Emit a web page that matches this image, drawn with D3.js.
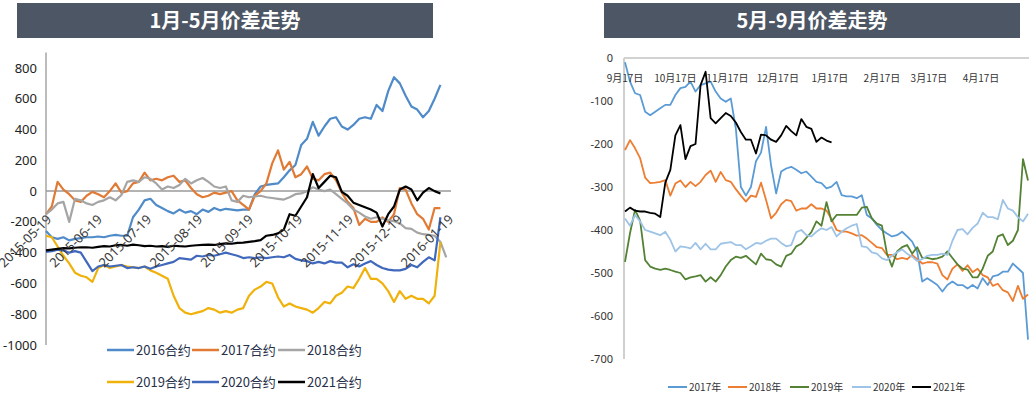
<!DOCTYPE html>
<html>
<head>
<meta charset="utf-8">
<script src="https://cdn.jsdelivr.net/npm/d3@7"></script>
<style>
  body { margin: 0; background: #fff; }
  svg { display: block; font-family: 'Noto Sans', 'Noto Sans CJK SC', sans-serif; }
</style>
</head>
<body>
<div id="result"></div>
<script>
// ---------- left chart data (1-5 spread, sampled every ~3.5 days from 2015-05-19) ----------
const leftNames = ['2016合约', '2017合约', '2018合约', '2019合约', '2020合约', '2021合约'];
const leftColors = ['#4f8bc9', '#e07a35', '#a5a5a5', '#f0b10a', '#4068bc', '#000000'];

const left2016 = [-260,-300,-310,-300,-320,-310,-305,-300,-300,-295,-300,-290,-285,-290,-290,-170,-120,-60,-50,-90,
  -110,-130,-145,-120,-140,-130,-150,-120,-135,-110,-125,-115,-120,-125,-120,-120,-20,30,40,45,
  50,90,135,170,300,340,450,360,420,470,480,420,400,430,470,480,470,560,520,650,
  740,700,620,550,530,480,520,600,690];
const left2017 = [-150,-100,60,10,-20,-60,-70,-30,-5,-20,-40,0,50,-10,0,50,60,120,70,80,
  70,90,100,60,70,20,-20,-40,-30,-10,-20,-10,0,-60,-90,-120,-30,0,50,180,
  265,140,190,90,110,160,80,70,110,120,70,-10,-70,-110,-220,-180,-200,-200,-170,-200,
  -150,20,10,-80,-150,-180,-250,-110,-110];
const left2018 = [-150,-120,-80,-70,-200,-50,-60,-80,-90,-70,-60,-40,-60,-25,60,70,60,90,80,50,
  10,30,20,40,80,50,70,85,60,30,20,30,-60,-70,-30,-40,-35,-30,-40,-45,
  -50,-55,-40,-20,-15,0,25,10,0,10,-20,-50,-80,-120,-140,-165,-180,-170,-180,-190,
  -195,-210,-240,-245,-270,-280,-285,-290,-330,-430];
const left2019 = [-290,-300,-360,-420,-470,-530,-550,-560,-590,-500,-480,-500,-490,-480,-490,-495,-500,-490,-515,-530,
  -550,-570,-680,-760,-790,-800,-790,-780,-760,-770,-790,-780,-790,-770,-760,-680,-640,-620,-590,-600,
  -690,-750,-730,-750,-760,-770,-790,-760,-720,-730,-680,-660,-620,-630,-570,-500,-570,-570,-600,-650,
  -720,-650,-700,-680,-700,-700,-730,-680,-330];
const left2020 = [-395,-390,-380,-385,-400,-390,-400,-460,-520,-490,-480,-490,-485,-480,-500,-495,-500,-490,-505,-490,
  -480,-470,-460,-435,-440,-445,-420,-425,-415,-420,-410,-400,-410,-420,-435,-430,-435,-430,-435,-430,
  -425,-430,-415,-440,-450,-455,-470,-460,-470,-455,-465,-465,-495,-475,-490,-470,-455,-480,-500,-510,
  -515,-515,-505,-480,-495,-460,-430,-450,-170];
const left2021 = [-385,-380,-375,-370,-372,-368,-365,-365,-368,-362,-358,-360,-352,-350,-355,-348,-352,-358,-355,-360,
  -358,-362,-355,-358,-360,-355,-352,-350,-348,-350,-345,-340,-342,-336,-335,-330,-325,-318,-290,-285,
  -275,-250,-150,-160,-100,-40,110,20,60,100,90,-5,-30,-75,-90,-105,-120,-140,-230,-150,
  -100,10,30,10,-60,-10,20,0,-15];

const leftTicks = ['2015-05-19', '2015-06-19', '2015-07-19', '2015-08-19', '2015-09-19',
  '2015-10-19', '2015-11-19', '2015-12-19', '2016-01-19'];
const leftYTicks = [-1000, -800, -600, -400, -200, 0, 200, 400, 600, 800];

// ---------- right chart data (5-9 spread, sampled every 3 days from 9月17日) ----------
const rightNames = ['2017年', '2018年', '2019年', '2020年', '2021年'];
const rightColors = ['#5b9bd5', '#ed7d31', '#548235', '#9dc3e6', '#000000'];

const r2017 = [-10,-55,-82,-86,-125,-133,-125,-117,-109,-109,-86,-70,-67,-55,-78,-63,-59,-55,-78,-94,
  -102,-94,-164,-300,-320,-300,-240,-220,-160,-250,-315,-264,-257,-253,-260,-268,-264,-276,-288,-291,
  -303,-299,-288,-319,-322,-322,-326,-319,-365,-373,-388,-400,-408,-415,-412,-404,-415,-427,-450,-520,
  -512,-520,-528,-543,-528,-520,-528,-528,-536,-528,-536,-512,-528,-508,-505,-497,-497,-478,-489,-500,-655];
const r2018 = [-214,-191,-210,-233,-278,-291,-290,-288,-284,-320,-292,-285,-300,-288,-298,-288,-272,-262,-288,-265,
  -284,-288,-305,-320,-334,-320,-323,-290,-330,-373,-360,-340,-330,-333,-355,-350,-350,-340,-350,-350,
  -355,-375,-400,-404,-404,-408,-413,-412,-420,-430,-440,-442,-458,-458,-468,-465,-468,-458,-468,-478,
  -475,-475,-478,-505,-515,-490,-480,-495,-482,-498,-490,-505,-510,-530,-525,-540,-545,-565,-530,-560,-550];
const r2019 = [-474,-407,-353,-378,-470,-485,-490,-493,-490,-493,-497,-500,-515,-510,-508,-505,-520,-510,-520,-505,
  -485,-470,-462,-465,-460,-470,-480,-455,-468,-470,-480,-485,-460,-455,-438,-432,-418,-405,-380,-390,
  -335,-380,-365,-365,-365,-365,-365,-348,-346,-373,-385,-390,-455,-485,-450,-440,-435,-455,-440,-465,
  -465,-468,-466,-462,-450,-465,-480,-490,-492,-510,-510,-490,-460,-450,-415,-410,-435,-425,-400,-235,-285];
const r2020 = [-373,-390,-365,-380,-400,-404,-408,-412,-404,-423,-450,-438,-440,-443,-430,-445,-432,-445,-445,-432,
  -430,-428,-435,-435,-445,-438,-430,-432,-425,-420,-420,-430,-438,-435,-405,-400,-412,-415,-404,-396,
  -400,-393,-415,-404,-396,-390,-386,-438,-440,-452,-455,-466,-470,-460,-452,-445,-455,-462,-472,-468,
  -460,-458,-458,-455,-458,-425,-400,-398,-410,-395,-385,-360,-370,-370,-375,-330,-350,-355,-370,-380,-362];
const r2021 = [-357,-348,-355,-357,-357,-360,-362,-370,-290,-260,-180,-156,-235,-205,-200,-63,-32,-140,-152,-140,
  -128,-135,-150,-172,-190,-190,-222,-178,-180,-190,-195,-180,-158,-170,-180,-142,-160,-165,-195,-185,
  -192,-196];

const rightTicks = ['9月17日', '10月17日', '11月17日', '12月17日', '1月17日', '2月17日', '3月17日', '4月17日'];
const rightYTicks = [-700, -600, -500, -400, -300, -200, -100, 0];

// ---------- setup ----------
const width = 1032;
const height = 394;
const parseDay = d3.timeParse('%Y-%m-%d');
const DAY = 24 * 3600 * 1000;

const svg = d3.select('#result')
  .append('svg')
  .attr('width', width)
  .attr('height', height);

svg.append('rect').attr('width', width).attr('height', height).attr('fill', '#fff');

// dark title bars
function titleBar(x, w, label) {
  svg.append('rect')
    .attr('x', x).attr('y', 3)
    .attr('width', w).attr('height', 35)
    .attr('fill', '#4d5664');
  svg.append('text')
    .attr('x', x + w / 2).attr('y', 21)
    .attr('dy', '0.36em')
    .attr('text-anchor', 'middle')
    .style('font-family', "'Noto Sans CJK SC', sans-serif")
    .style('font-weight', 'bold')
    .style('font-size', '20px')
    .attr('fill', '#fff')
    .text(label);
}

titleBar(17, 416, '1月-5月价差走势');
titleBar(604, 416, '5月-9月价差走势');

// ---------- left chart ----------
const leftStart = parseDay('2015-05-19');
const leftStep = 3.535; // days between samples
const leftDate = i => new Date(leftStart.getTime() + i * leftStep * DAY);

const xL = d3.scaleTime()
  .domain([leftStart, parseDay('2016-01-19')])
  .range([46, 448]);

const yL = d3.scaleLinear()
  .domain([-1000, 900])
  .range([345, 52.6]);

const gL = svg.append('g');

// y axis line
gL.append('line')
  .attr('x1', 46).attr('x2', 46)
  .attr('y1', yL(900)).attr('y2', yL(-1000))
  .attr('stroke', '#a6a6a6').attr('stroke-width', 1.5);

// zero line
gL.append('line')
  .attr('x1', 46).attr('x2', 451)
  .attr('y1', yL(0)).attr('y2', yL(0))
  .attr('stroke', '#9a9a9a').attr('stroke-width', 1.5);

gL.selectAll('.ytick')
  .data(leftYTicks)
  .enter()
  .append('text')
    .attr('class', 'ytick')
    .attr('x', 37)
    .attr('y', d => yL(d))
    .attr('dy', '0.35em')
    .attr('text-anchor', 'end')
    .style('font-size', '13px')
    .attr('fill', '#222')
    .text(d => d);

const leftData = [left2016, left2017, left2018, left2019, left2020, left2021];

const lineL = d3.line()
  .x((d, i) => xL(leftDate(i)))
  .y(d => yL(d));

leftData.forEach((vals, k) => {
  gL.append('path')
    .datum(vals)
    .attr('fill', 'none')
    .attr('stroke', leftColors[k])
    .attr('stroke-width', 2.2)
    .attr('stroke-linejoin', 'round')
    .attr('d', lineL);
});

// rotated date labels under the zero line
gL.selectAll('.xtick')
  .data(leftTicks)
  .enter()
  .append('text')
    .attr('class', 'xtick')
    .attr('transform', d => `translate(${xL(parseDay(d)) + 3}, ${yL(0) + 26}) rotate(-45)`)
    .attr('dy', '0.35em')
    .attr('text-anchor', 'end')
    .style('font-size', '13px')
    .attr('fill', '#3a3a3a')
    .text(d => d);

// legend, two rows of three
const legL = gL.append('g').style('font-family', "'Noto Sans CJK SC', sans-serif");
leftNames.forEach((name, k) => {
  const lx = [107, 192, 278][k % 3];
  const ly = k < 3 ? 350 : 382;
  legL.append('line')
    .attr('x1', lx).attr('x2', lx + 27)
    .attr('y1', ly).attr('y2', ly)
    .attr('stroke', leftColors[k]).attr('stroke-width', 2.5);
  legL.append('text')
    .attr('x', lx + 29).attr('y', ly)
    .attr('dy', '0.36em')
    .style('font-size', '13px')
    .attr('fill', '#26304a')
    .text(name);
});

// ---------- right chart ----------
const rightStart = parseDay('2020-09-17');
const rightDate = i => d3.timeDay.offset(rightStart, i * 3);

const xR = d3.scaleTime()
  .domain([rightStart, parseDay('2021-04-17')])
  .range([625, 981]);

const yR = d3.scaleLinear()
  .domain([-700, 0])
  .range([359, 58]);

const gR = svg.append('g');

// axis lines: category axis sits at 0 (top)
gR.append('line')
  .attr('x1', 624).attr('x2', 1029)
  .attr('y1', yR(0)).attr('y2', yR(0))
  .attr('stroke', '#c3c3c3').attr('stroke-width', 1.5);

gR.append('line')
  .attr('x1', 624).attr('x2', 624)
  .attr('y1', yR(0)).attr('y2', yR(-700))
  .attr('stroke', '#d0d0d0').attr('stroke-width', 2);

gR.selectAll('.ytick')
  .data(rightYTicks)
  .enter()
  .append('text')
    .attr('class', 'ytick')
    .attr('x', 613)
    .attr('y', d => yR(d))
    .attr('dy', '0.35em')
    .attr('text-anchor', 'end')
    .style('font-size', '11px')
    .attr('fill', '#333')
    .text(d => d);

const rightData = [r2017, r2018, r2019, r2020, r2021];

const lineR = d3.line()
  .x((d, i) => xR(rightDate(i)))
  .y(d => yR(d));

rightData.forEach((vals, k) => {
  gR.append('path')
    .datum(vals)
    .attr('fill', 'none')
    .attr('stroke', rightColors[k])
    .attr('stroke-width', 1.8)
    .attr('stroke-linejoin', 'round')
    .attr('d', lineR);
});

gR.selectAll('.xtick')
  .data(rightTicks)
  .enter()
  .append('text')
    .attr('class', 'xtick')
    .attr('x', (d, k) => xR(d3.timeMonth.offset(rightStart, k)))
    .attr('y', 78)
    .attr('dy', '0.35em')
    .attr('text-anchor', 'middle')
    .style('font-family', "'Noto Sans CJK SC', sans-serif")
    .style('font-size', '10px')
    .attr('fill', '#333')
    .text(d => d);

const legR = gR.append('g').style('font-family', "'Noto Sans CJK SC', sans-serif");
const legRx = [668, 728, 790, 852, 912];
rightNames.forEach((name, k) => {
  legR.append('line')
    .attr('x1', legRx[k]).attr('x2', legRx[k] + 19)
    .attr('y1', 387).attr('y2', 387)
    .attr('stroke', rightColors[k]).attr('stroke-width', 2);
  legR.append('text')
    .attr('x', legRx[k] + 21).attr('y', 387)
    .attr('dy', '0.36em')
    .style('font-size', '10px')
    .attr('fill', '#333')
    .text(name);
});
</script>
</body>
</html>
